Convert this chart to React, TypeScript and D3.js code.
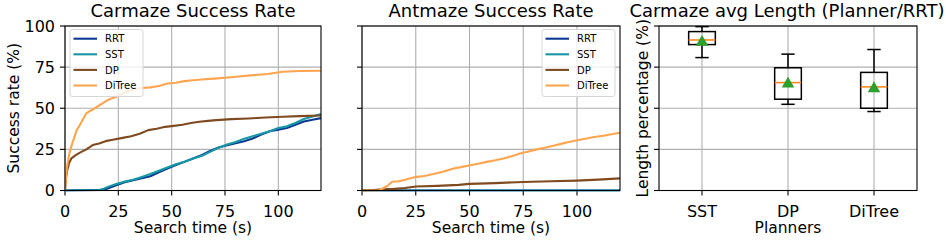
import * as d3 from 'd3';

const WIDTH = 946;
const HEIGHT = 240;
const FONT = '"DejaVu Sans", sans-serif';

// ---- series (time in s, success rate in %) ----
const carRrtT = [0, 18, 20, 24, 28, 32, 36, 40, 44, 48, 52, 56, 60, 64, 68, 72, 76, 80, 84, 88, 92, 96, 100, 104, 108, 112, 116, 120];
const carRrtV = [0, 0.4, 1.2, 3.2, 5, 6.3, 7.4, 8.7, 11, 13.4, 15.5, 17.4, 19.5, 21.5, 24, 26.2, 27.5, 28.8, 30, 31.6, 34, 36, 37, 38, 40, 42, 43, 44];
const carSstT = [0, 16, 18, 20, 24, 28, 32, 36, 40, 44, 48, 52, 56, 60, 64, 68, 72, 76, 80, 84, 88, 92, 96, 100, 104, 108, 112, 116, 120];
const carSstV = [0, 0.3, 1, 2.2, 4, 5.4, 6.5, 8.2, 10, 12, 14, 16, 17.5, 19.5, 21, 23.5, 26, 28, 29.5, 31.5, 33, 34.5, 36, 38, 39, 41, 43.5, 45, 46.5];
const carDpT = [0, 0.5, 1, 2, 3, 5, 7, 10, 13, 16, 19, 23, 27, 31, 35, 39, 43, 47, 51, 55, 59, 63, 67, 71, 78, 86, 94, 102, 110, 120];
const carDpV = [0, 8, 12, 17, 19.5, 21.5, 23, 25, 27.6, 28.6, 30, 31, 32, 33, 34.5, 36.7, 37.5, 38.7, 39.3, 40, 41, 41.8, 42.3, 42.8, 43.4, 43.8, 44.4, 44.8, 45.2, 45.6];
const carDiTreeT = [0, 0.5, 1, 2, 3, 4, 5.5, 7, 8.5, 10, 12, 14, 17, 20, 24, 28, 32, 36, 40, 44, 48, 52, 56, 60, 64, 70, 79, 87, 95, 102, 110, 120];
const carDiTreeV = [0, 8, 15, 22, 27, 31, 36.7, 40, 43.5, 46.9, 48.5, 50, 52.5, 55, 57, 59.5, 61.5, 62.3, 62.7, 63.5, 65, 65.5, 66.5, 67, 67.5, 68, 69, 70, 70.8, 72.2, 72.6, 72.8];

const antRrtT = [0, 120];
const antRrtV = [0, 0];
const antSstT = [0, 120];
const antSstV = [0, 0];
const antDpT = [0, 5, 10, 15, 20, 25, 35, 45, 50, 62, 75, 88, 100, 110, 120];
const antDpV = [0, 0.3, 0.7, 1, 1.5, 2.4, 2.8, 3.4, 4, 4.5, 5.2, 5.6, 6, 6.6, 7.4];
const antDiTreeT = [0, 8, 10, 12, 14, 17, 19.4, 22, 25.5, 29, 33.3, 38, 42.6, 46, 50.3, 54, 58, 62, 65.8, 70, 73.5, 77, 81.3, 85, 89, 93, 96.8, 100, 104.5, 108, 112.3, 116, 120];
const antDiTreeV = [0, 0, 1.5, 3, 5.3, 5.6, 6.3, 7.3, 8.3, 8.8, 10, 11.5, 13.4, 14.2, 15.4, 16.3, 17.4, 18.4, 19.5, 21, 22.5, 23.5, 25, 26, 27.2, 28.5, 29.6, 30.5, 31.6, 32.5, 33.3, 34.2, 35.1];

const seriesNames = ['RRT', 'SST', 'DP', 'DiTree'];
const seriesColors = ['#0b3a94', '#1798a6', '#7f4a1f', '#ffa54f'];
const carTimes = [carRrtT, carSstT, carDpT, carDiTreeT];
const carValues = [carRrtV, carSstV, carDpV, carDiTreeV];
const antTimes = [antRrtT, antSstT, antDpT, antDiTreeT];
const antValues = [antRrtV, antSstV, antDpV, antDiTreeV];

const xTicks = [0, 25, 50, 75, 100];
const yTicks = [0, 25, 50, 75, 100];

// ---- box plot (length relative to RRT, %) ----
const planners = ['SST', 'DP', 'DiTree'];
const whiskLow = [80.8, 52.4, 48];
const q1 = [88.7, 55.5, 50];
const medians = [91.5, 65.6, 63];
const q3 = [96.6, 74.6, 71.8];
const whiskHigh = [99.6, 82.9, 85.7];
const means = [90.8, 65.4, 62.6];

const TOP = 26;
const BOTTOM = 190.5;
const TICK = 5;
const TICK_FS = 16;
const LABEL_FS = 15.5;
const TITLE_FS = 18;
const GRID = '#b0b0b0';

function Frame({ left, right }: { left: number; right: number }) {
  return <rect x={left} y={TOP} width={right - left} height={BOTTOM - TOP} fill="none" stroke="#000" strokeWidth={1.1} />;
}

function SuccessPanel({ left, right, title, times, values, showYLabels, legendX }: {
  left: number; right: number; title: string; times: number[][]; values: number[][]; showYLabels: boolean; legendX: number;
}) {
  const x = d3.scaleLinear().domain([0, 120]).range([left, right]);
  const y = d3.scaleLinear().domain([0, 100]).range([BOTTOM, TOP]);
  const line = d3.line<[number, number]>().x((d) => x(d[0])).y((d) => y(d[1]));
  const clipId = `clip-${left}`;
  return (
    <g>
      <defs>
        <clipPath id={clipId}>
          <rect x={left} y={TOP - 2} width={right - left + 2} height={BOTTOM - TOP + 3} />
        </clipPath>
      </defs>
      {xTicks.map((t) => (
        <g key={`x${t}`}>
          <line x1={x(t)} x2={x(t)} y1={TOP} y2={BOTTOM} stroke={GRID} strokeWidth={1.1} />
          <line x1={x(t)} x2={x(t)} y1={BOTTOM} y2={BOTTOM + TICK} stroke="#000" strokeWidth={1.1} />
          <text x={x(t)} y={BOTTOM + 26} textAnchor="middle" fontSize={TICK_FS} fontFamily={FONT}>{t}</text>
        </g>
      ))}
      {yTicks.map((t) => (
        <g key={`y${t}`}>
          <line x1={left} x2={right} y1={y(t)} y2={y(t)} stroke={GRID} strokeWidth={1.1} />
          <line x1={left - TICK} x2={left} y1={y(t)} y2={y(t)} stroke="#000" strokeWidth={1.1} />
          {showYLabels && (
            <text x={left - 10} y={y(t) + 5.8} textAnchor="end" fontSize={TICK_FS} fontFamily={FONT}>{t}</text>
          )}
        </g>
      ))}
      <g clipPath={`url(#${clipId})`}>
        {times.map((ts, i) => (
          <path key={i} d={line(ts.map((t, j) => [t, values[i][j]] as [number, number])) ?? undefined}
            fill="none" stroke={seriesColors[i]} strokeWidth={2.1} strokeLinejoin="round" />
        ))}
      </g>
      <Frame left={left} right={right} />
      <g>
        <rect x={legendX} y={29.5} width={73} height={67} rx={2.5} fill="#fff" fillOpacity={0.8} stroke="#d6d6d6" />
        {seriesNames.map((name, i) => (
          <g key={name}>
            <line x1={legendX + 3.5} x2={legendX + 27} y1={38.7 + i * 15.6} y2={38.7 + i * 15.6} stroke={seriesColors[i]} strokeWidth={2.1} />
            <text x={legendX + 35} y={42.3 + i * 15.6} fontSize={10} fontFamily={FONT}>{name}</text>
          </g>
        ))}
      </g>
      <text x={(left + right) / 2} y={17} textAnchor="middle" fontSize={TITLE_FS} fontFamily={FONT}>{title}</text>
      <text x={(left + right) / 2} y={233} textAnchor="middle" fontSize={LABEL_FS} fontFamily={FONT}>Search time (s)</text>
    </g>
  );
}

function BoxPanel({ left, right }: { left: number; right: number }) {
  const x = d3.scalePoint<string>().domain(planners).range([left, right]).padding(0.5);
  const y = d3.scaleLinear().domain([0, 100]).range([BOTTOM, TOP]);
  const step = x.step();
  const boxW = step * 0.31;
  const capW = boxW / 2;
  const tri = d3.symbol().type(d3.symbolTriangle).size(68)();
  return (
    <g>
      {planners.map((p) => (
        <g key={`gx${p}`}>
          <line x1={x(p)} x2={x(p)} y1={TOP} y2={BOTTOM} stroke={GRID} strokeWidth={1.1} />
          <line x1={x(p)} x2={x(p)} y1={BOTTOM} y2={BOTTOM + TICK} stroke="#000" strokeWidth={1.1} />
          <text x={x(p)} y={BOTTOM + 26} textAnchor="middle" fontSize={TICK_FS} fontFamily={FONT}>{p}</text>
        </g>
      ))}
      {yTicks.map((t) => (
        <g key={`gy${t}`}>
          <line x1={left} x2={right} y1={y(t)} y2={y(t)} stroke={GRID} strokeWidth={1.1} />
          <line x1={left - TICK} x2={left} y1={y(t)} y2={y(t)} stroke="#000" strokeWidth={1.1} />
        </g>
      ))}
      {planners.map((p, i) => {
        const cx = x(p) ?? 0;
        return (
          <g key={p}>
            <line x1={cx} x2={cx} y1={y(whiskHigh[i])} y2={y(q3[i])} stroke="#000" strokeWidth={1.5} />
            <line x1={cx} x2={cx} y1={y(q1[i])} y2={y(whiskLow[i])} stroke="#000" strokeWidth={1.5} />
            <line x1={cx - capW / 2} x2={cx + capW / 2} y1={y(whiskHigh[i])} y2={y(whiskHigh[i])} stroke="#000" strokeWidth={1.5} />
            <line x1={cx - capW / 2} x2={cx + capW / 2} y1={y(whiskLow[i])} y2={y(whiskLow[i])} stroke="#000" strokeWidth={1.5} />
            <rect x={cx - boxW / 2} y={y(q3[i])} width={boxW} height={y(q1[i]) - y(q3[i])} fill="none" stroke="#000" strokeWidth={1.5} />
            <line x1={cx - boxW / 2} x2={cx + boxW / 2} y1={y(medians[i])} y2={y(medians[i])} stroke="#ff7f0e" strokeWidth={1.5} />
            <path d={tri ?? undefined} transform={`translate(${cx},${y(means[i]) + 1})`} fill="#2ca02c" />
          </g>
        );
      })}
      <Frame left={left} right={right} />
      <text x={(left + right) / 2 - 1} y={17} textAnchor="middle" fontSize={TITLE_FS} fontFamily={FONT}>Carmaze avg Length (Planner/RRT)</text>
      <text x={(left + right) / 2} y={233} textAnchor="middle" fontSize={LABEL_FS} fontFamily={FONT}>Planners</text>
      <text transform={`translate(${left - 11},${(TOP + BOTTOM) / 2}) rotate(-90)`} textAnchor="middle" fontSize={LABEL_FS} fontFamily={FONT}>Length percentage (%)</text>
    </g>
  );
}

export default function App() {
  return (
    <div style={{ position: 'absolute', left: 0, top: 0 }}>
      <svg width={WIDTH} height={HEIGHT} viewBox={`0 0 ${WIDTH} ${HEIGHT}`} style={{ display: 'block', background: '#fff' }}>
        <SuccessPanel left={65} right={321} title="Carmaze Success Rate" times={carTimes} values={carValues} showYLabels legendX={70} />
        <text transform={`translate(19,${(TOP + BOTTOM) / 2}) rotate(-90)`} textAnchor="middle" fontSize={LABEL_FS} fontFamily={FONT}>Success rate (%)</text>
        <SuccessPanel left={362} right={620} title="Antmaze Success Rate" times={antTimes} values={antValues} showYLabels={false} legendX={542} />
        <BoxPanel left={659} right={917} />
      </svg>
    </div>
  );
}
